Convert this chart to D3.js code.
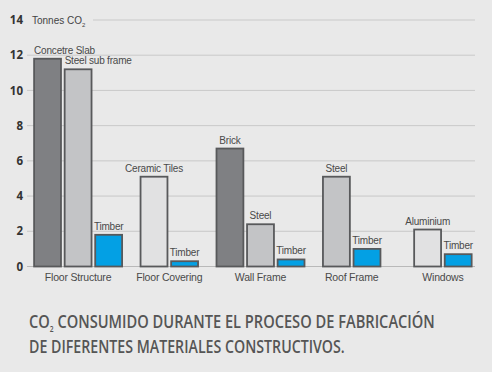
<!DOCTYPE html>
<html>
<head>
<meta charset="utf-8">
<script src="https://cdn.jsdelivr.net/npm/d3@7"></script>
<style>
  body { margin: 0; background: #e9e9e9; }
  svg { display: block; }
</style>
</head>
<body>
<div class="canvas"></div>
<script>
// data
const groups = ["Floor Structure", "Floor Covering", "Wall Frame", "Roof Frame", "Windows"];
const materials = [
  ["Concetre Slab", "Steel sub frame", "Timber"],
  ["Ceramic Tiles", "Timber"],
  ["Brick", "Steel", "Timber"],
  ["Steel", "Timber"],
  ["Aluminium", "Timber"]
];
const values = [
  [11.8, 11.2, 1.8],
  [5.1, 0.3],
  [6.7, 2.4, 0.4],
  [5.1, 1.0],
  [2.1, 0.7]
];
const kinds = [
  ["heavy", "metal", "timber"],
  ["light", "timber"],
  ["heavy", "metal", "timber"],
  ["metal", "timber"],
  ["light", "timber"]
];
const yTicks = [0, 2, 4, 6, 8, 10, 12, 14];

// margins and dimensions
const w = 492;
const h = 372;
const plot = { left: 27, right: 475, top: 20, bottom: 266.5 };
const narrow = "'Liberation Sans Narrow', 'Liberation Sans', Arial, sans-serif";

const svg = d3.select(".canvas").append("svg").attr("width", w).attr("height", h);
svg.append("rect").attr("width", w).attr("height", h).attr("fill", "#e9e9e9");

const y = d3.scaleLinear().domain([0, 14]).range([plot.bottom, plot.top]);
const x = d3.scaleBand().domain(groups).range([32.5, 488.5]);
const color = d3.scaleOrdinal()
  .domain(["heavy", "metal", "light", "timber"])
  .range(["#7f8083", "#c3c4c6", "#e1e1e2", "#03a0e4"]);

// squeeze a text horizontally so it spans the given width
function squeeze(sel, x0, y0, width) {
  const bw = sel.node().getBBox().width;
  sel.attr("transform", `translate(${x0}, ${y0}) scale(${width / bw}, 1)`);
}

// gridlines (top one starts after the unit label)
svg.append("g")
  .selectAll("line")
  .data(yTicks)
  .join("line")
  .attr("x1", (d) => (d === 14 ? 93 : plot.left))
  .attr("x2", plot.right)
  .attr("y1", (d) => y(d))
  .attr("y2", (d) => y(d))
  .attr("stroke", (d) => (d === 0 ? "#b9b9b9" : "#c9c9c9"))
  .attr("stroke-width", 1);

// y axis labels
const yAxis = svg.append("g")
  .attr("transform", `translate(23, 0)`)
  .call(d3.axisLeft(y).tickValues(yTicks).tickSize(0).tickPadding(0));
yAxis.select(".domain").remove();
yAxis.selectAll("text")
  .attr("font-family", "'Open Sans', sans-serif")
  .attr("font-weight", "bold")
  .attr("font-size", 11.5)
  .attr("fill", "#333");

// unit label
const unit = svg.append("text")
  .attr("x", 32)
  .attr("y", y(14) + 4)
  .attr("font-family", narrow)
  .attr("font-size", 10)
  .attr("fill", "#444");
unit.append("tspan").text("Tonnes CO");
unit.append("tspan").attr("font-size", 6).attr("dy", 3).text("2");

// bars
const bars = [];
groups.forEach((g, gi) => {
  const n = values[gi].length;
  const half = (n * 30.5 - 3.5) / 2;
  const inner = d3.scaleBand()
    .domain(d3.range(n))
    .range([x(g) + x.bandwidth() / 2 - half, x(g) + x.bandwidth() / 2 + half])
    .paddingInner(0.12);
  values[gi].forEach((v, i) => {
    bars.push({ group: g, label: materials[gi][i], value: v, kind: kinds[gi][i], x: inner(i), bw: inner.bandwidth() });
  });
});

svg.append("g")
  .selectAll("rect")
  .data(bars)
  .join("rect")
  .attr("x", (d) => d.x)
  .attr("y", (d) => y(d.value))
  .attr("width", (d) => d.bw)
  .attr("height", (d) => y(0) - y(d.value))
  .attr("fill", (d) => color(d.kind))
  .attr("stroke", "#58595b")
  .attr("stroke-width", 1.8);

// bar labels
const leftAligned = new Set(["Concetre Slab", "Steel sub frame"]);
svg.append("g")
  .selectAll("text")
  .data(bars)
  .join("text")
  .attr("x", (d) => (leftAligned.has(d.label) ? d.x : d.x + d.bw / 2))
  .attr("y", (d) => y(d.value) - 5)
  .attr("text-anchor", (d) => (leftAligned.has(d.label) ? "start" : "middle"))
  .attr("font-family", narrow)
  .attr("font-size", 10)
  .attr("letter-spacing", -0.2)
  .attr("fill", "#4a4a4a")
  .text((d) => d.label);

// category labels
svg.append("g")
  .selectAll("text")
  .data(groups)
  .join("text")
  .attr("x", (d) => x(d) + x.bandwidth() / 2)
  .attr("y", 281)
  .attr("text-anchor", "middle")
  .attr("font-family", narrow)
  .attr("font-size", 10.5)
  .attr("letter-spacing", -0.2)
  .attr("fill", "#4a4a4a")
  .text((d) => d);

// title, squeezed to the original line widths
const titleLines = [
  { parts: ["CO", "2", " CONSUMIDO DURANTE EL PROCESO DE FABRICACIÓN"], y: 328, width: 406 },
  { parts: ["DE DIFERENTES MATERIALES CONSTRUCTIVOS."], y: 353, width: 316 }
];
titleLines.forEach((line) => {
  const t = svg.append("text")
    .attr("font-family", "'Open Sans', sans-serif")
    .attr("font-weight", 600)
    .attr("font-size", 17.5)
    .attr("fill", "#555");
  line.parts.forEach((p, i) => {
    if (p === "2") {
      t.append("tspan").attr("font-size", 8).attr("dy", 4).text(p);
    } else {
      t.append("tspan").attr("dy", i > 0 ? -4 : 0).text(p);
    }
  });
  squeeze(t, 29, line.y, line.width);
});
</script>
</body>
</html>
